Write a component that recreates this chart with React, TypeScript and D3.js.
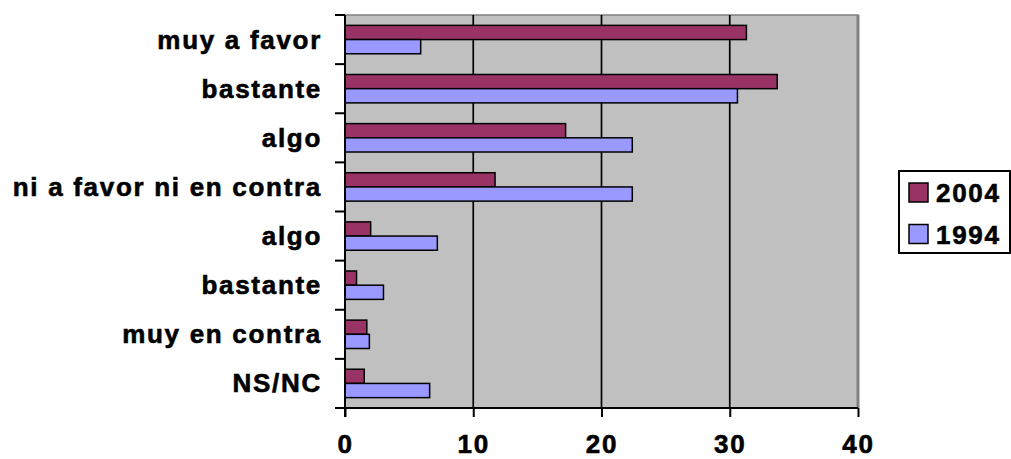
import React, { useRef, useEffect, FC } from "react";
import * as d3 from "d3";

// Chart data
const categories = [
  "muy a favor",
  "bastante",
  "algo",
  "ni a favor ni en contra",
  "algo",
  "bastante",
  "muy en contra",
  "NS/NC",
];
const series = ["2004", "1994"];
const values2004 = [31.3, 33.7, 17.2, 11.7, 2.0, 0.9, 1.7, 1.5];
const values1994 = [5.9, 30.6, 22.4, 22.4, 7.2, 3.0, 1.9, 6.6];
const xTicks = [0, 10, 20, 30, 40];
const colors = ["#993366", "#9999FF"];

const font = "'Liberation Sans', Arial, sans-serif";

// bold label look, slightly heavier than the plain bold face
const styleText = (sel: any) =>
  sel
    .style("font-family", font)
    .style("font-size", "26px")
    .style("font-weight", "bold")
    .style("letter-spacing", "1.7px")
    .attr("fill", "#000")
    .attr("stroke", "#000")
    .attr("stroke-width", 0.6);

const App: FC = () => {
  const chartRef = useRef<HTMLDivElement>(null);

  useEffect(() => {
    const container = d3.select(chartRef.current);
    container.select("svg").remove();

    const width = 1011;
    const height = 459;
    const left = 345;
    const right = 858;
    const top = 15;
    const bottom = 408;

    const svg = container
      .append("svg")
      .attr("width", width)
      .attr("height", height)
      .style("position", "absolute")
      .style("left", 0)
      .style("top", 0)
      .style("background", "#fff");

    const xScale = d3.scaleLinear().domain([0, 40]).range([left, right]);
    const yScale = d3
      .scaleBand<number>()
      .domain(d3.range(categories.length))
      .range([top, bottom])
      .padding(0);
    const inner = d3
      .scaleBand<string>()
      .domain(series)
      .range([0, yScale.bandwidth()])
      .paddingInner(0)
      .paddingOuter(0.73);

    // plot area
    svg
      .append("rect")
      .attr("x", left)
      .attr("y", top)
      .attr("width", right - left)
      .attr("height", bottom - top)
      .attr("fill", "#C0C0C0")
      .attr("stroke", "#808080")
      .attr("stroke-width", 1.5);
    svg
      .append("line")
      .attr("x1", right)
      .attr("x2", right)
      .attr("y1", top)
      .attr("y2", bottom)
      .attr("stroke", "#808080")
      .attr("stroke-width", 3);

    // gridlines
    svg
      .selectAll(".grid")
      .data(xTicks.filter((t) => t > 0 && t < 40))
      .enter()
      .append("line")
      .attr("x1", (d) => xScale(d))
      .attr("x2", (d) => xScale(d))
      .attr("y1", top)
      .attr("y2", bottom)
      .attr("stroke", "#000")
      .attr("stroke-width", 1.7);

    // bars
    const rows = categories.map((c, i) => ({
      i,
      vals: [values2004[i], values1994[i]],
    }));
    rows.forEach((row) => {
      series.forEach((s, k) => {
        svg
          .append("rect")
          .attr("x", xScale(0))
          .attr("y", (yScale(row.i) as number) + (inner(s) as number))
          .attr("width", xScale(row.vals[k]) - xScale(0))
          .attr("height", inner.bandwidth())
          .attr("fill", colors[k])
          .attr("stroke", "#000")
          .attr("stroke-width", 1.5);
      });
    });

    // x axis
    const xAxis = d3
      .axisBottom(xScale)
      .tickValues(xTicks)
      .tickSize(9)
      .tickFormat((d) => String(d));
    const gx = svg
      .append("g")
      .attr("transform", `translate(0, ${bottom})`)
      .call(xAxis);
    gx.select(".domain").remove();
    gx.selectAll("line").attr("stroke", "#000").attr("stroke-width", 2);
    styleText(gx.selectAll("text")).attr("dy", "0").attr("y", 45);
    svg
      .append("line")
      .attr("x1", left - 10)
      .attr("x2", right)
      .attr("y1", bottom)
      .attr("y2", bottom)
      .attr("stroke", "#000")
      .attr("stroke-width", 2);

    // y axis
    const yTicks = d3.range(categories.length + 1).map((i) => top + i * yScale.step());
    svg
      .append("line")
      .attr("x1", left)
      .attr("x2", left)
      .attr("y1", top)
      .attr("y2", bottom + 9)
      .attr("stroke", "#000")
      .attr("stroke-width", 2);
    svg
      .selectAll(".ytick")
      .data(yTicks)
      .enter()
      .append("line")
      .attr("x1", left - 10)
      .attr("x2", left)
      .attr("y1", (d) => d)
      .attr("y2", (d) => d)
      .attr("stroke", "#000")
      .attr("stroke-width", 2);

    styleText(
      svg
        .selectAll(".ylabel")
        .data(categories)
        .enter()
        .append("text")
        .attr("x", 322)
        .attr("y", (d, i) => (yScale(i) as number) + yScale.bandwidth() / 2 + 9)
        .attr("text-anchor", "end")
        .text((d) => d)
    );

    // legend
    const legend = svg.append("g");
    legend
      .append("rect")
      .attr("x", 899)
      .attr("y", 171)
      .attr("width", 111)
      .attr("height", 82)
      .attr("fill", "#fff")
      .attr("stroke", "#000")
      .attr("stroke-width", 2);
    series.forEach((s, k) => {
      const cy = 192.5 + k * 41.5;
      legend
        .append("rect")
        .attr("x", 909)
        .attr("y", cy - 9.5)
        .attr("width", 19)
        .attr("height", 19)
        .attr("fill", colors[k])
        .attr("stroke", "#000")
        .attr("stroke-width", 1.5);
      styleText(
        legend
          .append("text")
          .attr("x", 936)
          .attr("y", cy + 9.5)
          .text(s)
      );
    });
  }, []);

  return <div ref={chartRef} />;
};

export default App;
